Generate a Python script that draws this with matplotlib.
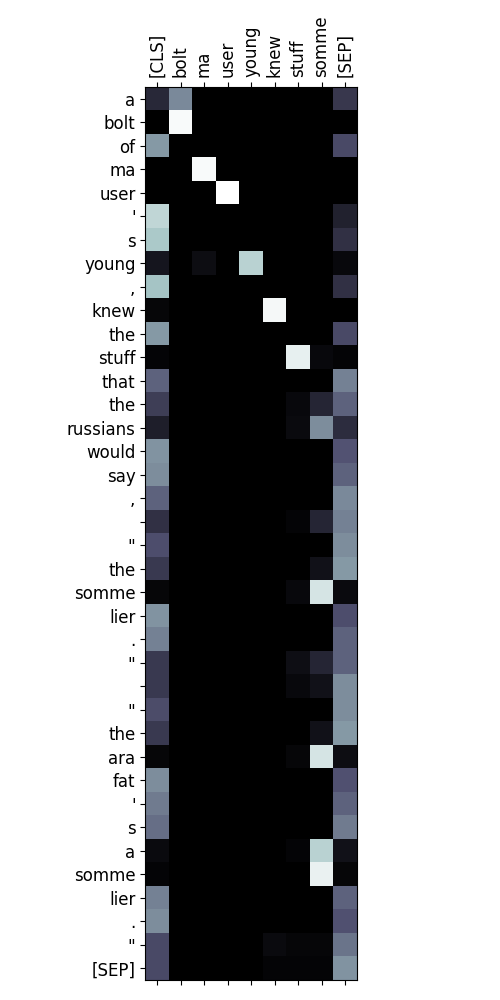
import numpy as np
import matplotlib
matplotlib.use("Agg")
import matplotlib.pyplot as plt

# key tokens (columns) and sentence tokens (rows)
cols = ["[CLS]", "bolt", "ma", "user", "young", "knew", "stuff", "somme", "[SEP]"]
rows = ["a", "bolt", "of", "ma", "user", "'", "s", "young", ",", "knew", "the",
        "stuff", "that", "the", "russians", "would", "say", ",", "", "\"", "the",
        "somme", "lier", ".", "\"", "", "\"", "the", "ara", "fat", "'", "s", "a",
        "somme", "lier", ".", "\"", "[SEP]"]

# attention weights
cls_col = [0.18, 0.0, 0.60, 0.0, 0.0, 0.82, 0.76, 0.10, 0.74, 0.03, 0.60,
           0.02, 0.42, 0.28, 0.14, 0.58, 0.56, 0.42, 0.22, 0.35, 0.26,
           0.03, 0.58, 0.52, 0.26, 0.26, 0.34, 0.26, 0.03, 0.56, 0.50, 0.46,
           0.05, 0.02, 0.52, 0.56, 0.33, 0.33]
sep_col = [0.25, 0.0, 0.33, 0.0, 0.0, 0.15, 0.22, 0.04, 0.22, 0.0, 0.33,
           0.02, 0.52, 0.42, 0.20, 0.37, 0.42, 0.55, 0.52, 0.56, 0.60,
           0.05, 0.35, 0.42, 0.42, 0.56, 0.56, 0.60, 0.06, 0.36, 0.42, 0.50,
           0.08, 0.03, 0.42, 0.36, 0.48, 0.58]
somme_col = [0, 0, 0, 0, 0, 0, 0, 0, 0, 0, 0,
             0.04, 0, 0.17, 0.56, 0, 0, 0, 0.17, 0, 0.08,
             0.88, 0, 0, 0.17, 0.08, 0, 0.08, 0.88, 0, 0, 0,
             0.80, 0.94, 0, 0, 0.03, 0.02]
stuff_col = [0, 0, 0, 0, 0, 0, 0, 0, 0, 0, 0,
             0.93, 0, 0.04, 0.05, 0, 0, 0, 0.02, 0, 0,
             0.04, 0, 0, 0.07, 0.04, 0, 0, 0.03, 0, 0, 0,
             0.02, 0, 0, 0, 0.03, 0.02]
diag = {1: (1, 0.98), 3: (2, 0.98), 4: (3, 1.0), 7: (4, 0.80), 9: (5, 0.97)}
extra = {(0, 1): 0.55, (7, 2): 0.06, (36, 5): 0.05, (37, 5): 0.02}

att = np.zeros((len(rows), len(cols)))
att[:, 0] = cls_col
att[:, 8] = sep_col
att[:, 7] = somme_col
att[:, 6] = stuff_col
for r, (c, v) in diag.items():
    att[r, c] = v
for (r, c), v in extra.items():
    att[r, c] = v

fig = plt.figure(figsize=(5, 10), dpi=100)
ax = fig.add_axes([0.29, 0.02, 0.424, 0.893])
ax.imshow(att, cmap="bone", interpolation="nearest", aspect="equal")

ax.set_xticks(range(len(cols)))
ax.set_xticklabels(cols, rotation=90, fontsize=12)
ax.set_yticks(range(len(rows)))
ax.set_yticklabels(rows, fontsize=12)
ax.tick_params(top=True, labeltop=True, bottom=True, labelbottom=False)

fig.savefig("out.png")
